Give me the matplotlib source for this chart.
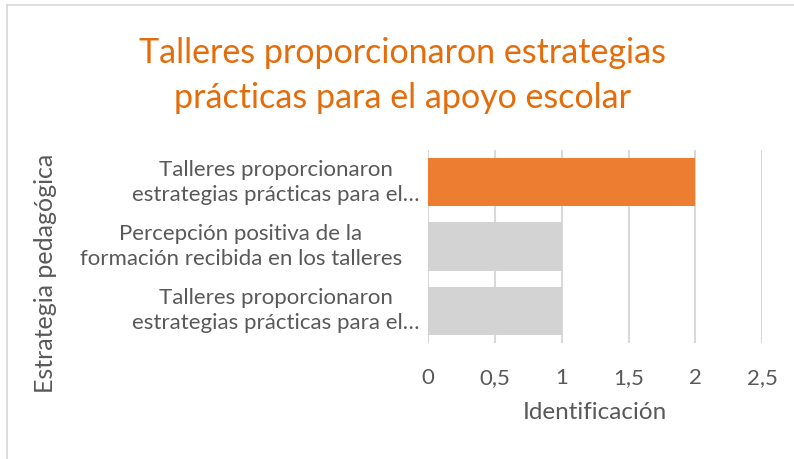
import matplotlib.pyplot as plt
import matplotlib.transforms as mtransforms
from matplotlib.ticker import FuncFormatter
from matplotlib.lines import Line2D

plt.rcParams["font.family"] = ["Lato", "DejaVu Sans"]

TITLE = "Talleres proporcionaron estrategias\nprácticas para el apoyo escolar"
categories = [
    "Talleres proporcionaron\nestrategias prácticas para el…",
    "Percepción positiva de la\nformación recibida en los talleres",
    "Talleres proporcionaron\nestrategias prácticas para el…",
]
values = [2, 1, 1]
bar_colors = ["#ED7D31", "#D3D3D3", "#D3D3D3"]
xticks = [0, 0.5, 1, 1.5, 2, 2.5]

TEXT = "#595959"
GRID = "#D9D9D9"

fig = plt.figure(figsize=(7.94, 4.59), dpi=100)
ax = fig.add_axes([0.539, 0.2527, 0.421, 0.4203])

pos = list(range(len(categories)))[::-1]
ax.barh(pos, values, height=0.75, color=bar_colors, zorder=2)

ax.set_xlim(0, 2.5)
ax.set_ylim(-0.5, 2.5)
ax.set_xticks(xticks)
ax.xaxis.set_major_formatter(FuncFormatter(lambda v, _: f"{v:g}".replace(".", ",")))
ax.set_yticks(pos)
ax.set_yticklabels([])
ax.tick_params(axis="both", length=0, colors=TEXT, labelsize=16)
ax.tick_params(axis="x", pad=18)
ax.grid(axis="x", color=GRID, linewidth=1.5, zorder=1)
for s in ax.spines.values():
    s.set_visible(False)

# category labels: each block centred on its own, like the Excel wrap box
label_x = [-0.455, -0.56, -0.455]
trans = mtransforms.blended_transform_factory(ax.transAxes, ax.transData)
for p, lab, lx in zip(pos, categories, label_x):
    ax.text(lx, p, lab, transform=trans, ha="center", va="center",
            multialignment="center", color=TEXT, fontsize=16, linespacing=1.3)

ax.set_xlabel("Identificación", color=TEXT, fontsize=17.5, labelpad=10)
fig.text(0.057, 0.405, "Estrategia pedagógica", rotation=90, color=TEXT,
         fontsize=18, ha="center", va="center")

fig.text(0.507, 0.836, TITLE, color="#E46C0A", fontsize=24.5, ha="center",
         va="center", linespacing=1.48)

# chart frame (only top and left edges are visible)
fig.add_artist(Line2D([0.009, 1.0], [0.989, 0.989], color="#D9D9D9", linewidth=1.2))
fig.add_artist(Line2D([0.009, 0.009], [0.0, 0.989], color="#D9D9D9", linewidth=1.2))

fig.savefig("out.png", dpi=100)
